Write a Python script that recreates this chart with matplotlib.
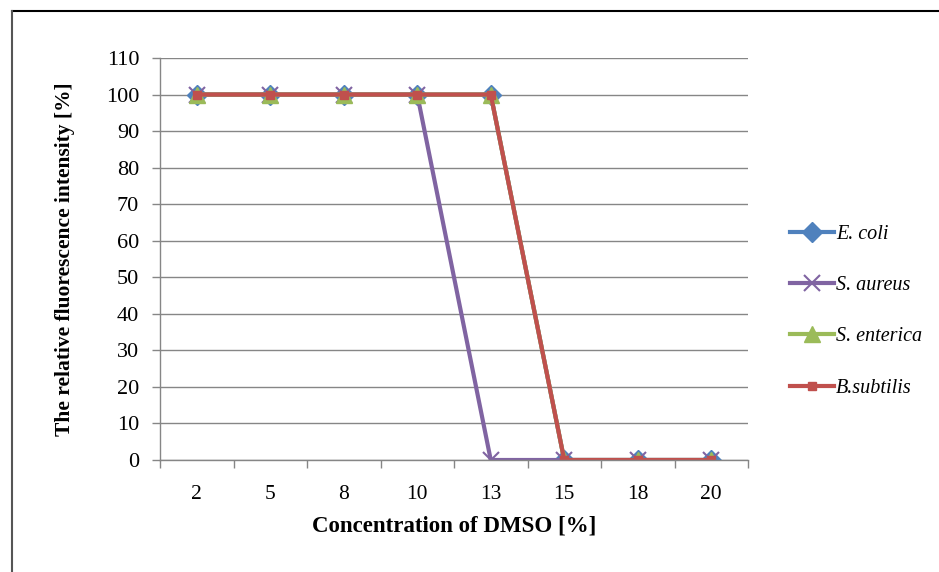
import numpy as np
import matplotlib
matplotlib.use('Agg')
import matplotlib.pyplot as plt
from matplotlib.lines import Line2D

# data
conc = ['2', '5', '8', '10', '13', '15', '18', '20']
ecoli = [100, 100, 100, 100, 100, 0, 0, 0]
saureus = [100, 100, 100, 100, 0, 0, 0, 0]
senterica = [100, 100, 100, 100, 100, 0, 0, 0]
bsubtilis = [100, 100, 100, 100, 100, 0, 0, 0]

plt.rcParams['font.family'] = ['Liberation Serif', 'DejaVu Serif']

fg = plt.figure(figsize=(9.39, 5.72), dpi=100)
ax = fg.add_axes([0.1704, 0.1958, 0.6262, 0.7028])

x = np.arange(len(conc))
ax.plot(x, ecoli, color='#4F81BD', lw=3, marker='D', ms=10, label='E. coli')
ax.plot(x, saureus, color='#8064A2', lw=3, marker='x', ms=11, mew=1.5, label='S. aureus')
ax.plot(x, senterica, color='#9BBB59', lw=3, marker='^', ms=11, label='S. enterica')
ax.plot(x, bsubtilis, color='#C0504D', lw=3, marker='s', ms=6, label='B.subtilis')

ax.set_xlim(-0.5, len(conc) - 0.5)
ax.set_ylim(0, 110)
ax.set_yticks(np.arange(0, 111, 10))
ax.set_xticks(x)
ax.set_xticklabels(conc)
ax.set_xticks(np.arange(-0.5, len(conc), 1), minor=True)
ax.tick_params(axis='x', which='major', length=0, pad=18, labelsize=15.5)
ax.tick_params(axis='x', which='minor', length=6, color='#868686', width=1)
ax.tick_params(axis='y', length=6, color='#868686', width=1, labelsize=16, pad=9)
ax.yaxis.grid(True, color='#868686', lw=1)
ax.set_axisbelow(True)
for s in ['top', 'right']:
    ax.spines[s].set_visible(False)
for s in ['left', 'bottom']:
    ax.spines[s].set_color('#868686')
    ax.spines[s].set_linewidth(1)

ax.set_xlabel('Concentration of DMSO [%]', fontsize=16.5, fontweight='bold', labelpad=8)
ax.set_ylabel('The relative fluorescence intensity [%]', fontsize=15.5, fontweight='bold', labelpad=22)

leg = ax.legend(loc='center left', bbox_to_anchor=(1.04, 0.37), frameon=False,
                prop={'style': 'italic', 'size': 14.5}, labelspacing=1.6,
                handlelength=2.2, handletextpad=0.1)

# outer frame (top and left edges only visible)
fg.add_artist(Line2D([12 / 939, 1], [1 - 11 / 572, 1 - 11 / 572], color='black', lw=1.5))
fg.add_artist(Line2D([12 / 939, 12 / 939], [0, 1 - 11 / 572], color='#555555', lw=1.5))

fg.savefig('out.png', dpi=100)
